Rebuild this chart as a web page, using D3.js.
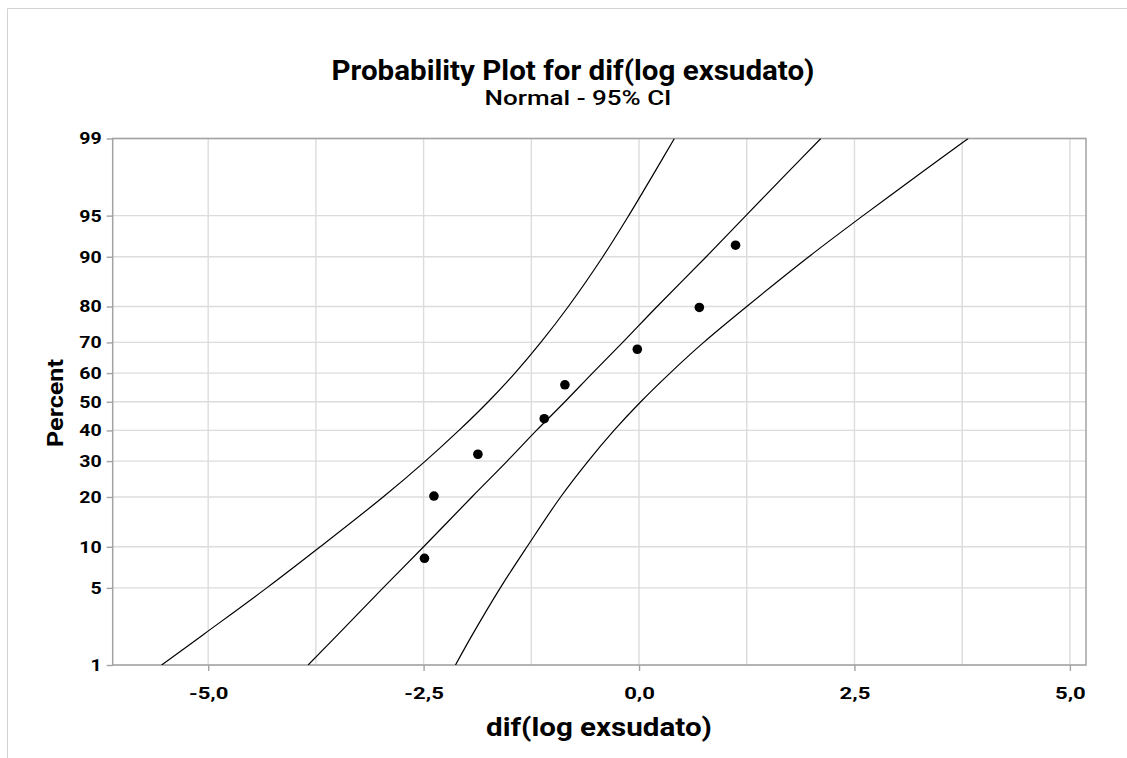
<!DOCTYPE html>
<html>
<head>
<meta charset="utf-8">
<script src="https://cdn.jsdelivr.net/npm/d3@7"></script>
<style>
  html, body { margin: 0; padding: 0; background: #fff; }
  svg { display: block; font-family: Roboto, "Noto Sans", sans-serif; }
</style>
</head>
<body>
<svg id="chart" width="1127" height="758"></svg>
<script>
// Percent levels on the probability axis
const percentTicks = [1, 5, 10, 20, 30, 40, 50, 60, 70, 80, 90, 95, 99];

// x axis ticks and their labels (decimal comma)
const xTicks = [-5, -2.5, 0, 2.5, 5];
const xTickLabels = ["-5,0", "-2,5", "0,0", "2,5", "5,0"];
const xMinorGrid = [-3.75, -1.25, 1.25, 3.75];

// Observations of dif(log exsudato) and their plotting percents
const values = [-2.49, -2.38, -1.87, -1.10, -0.86, -0.02, 0.70, 1.12];
const plotPercents = [8.33, 20.24, 32.14, 44.05, 55.95, 67.86, 79.76, 91.67];

// Fitted normal line and 95% confidence band, sampled at these percents
const bandPercents = [1, 2, 5, 10, 20, 30, 40, 50, 60, 70, 80, 90, 95, 98, 99];
const fitLine   = [-3.84, -3.49, -2.97, -2.50, -1.94, -1.53, -1.19, -0.86, -0.54, -0.19, 0.21, 0.78, 1.24, 1.76, 2.11];
const lowerBand = [-5.54, -5.05, -4.32, -3.70, -2.97, -2.48, -2.09, -1.75, -1.44, -1.14, -0.82, -0.42, -0.12, 0.20, 0.41];
const upperBand = [-2.13, -1.93, -1.61, -1.30, -0.91, -0.59, -0.29, 0.02, 0.36, 0.75, 1.25, 1.97, 2.60, 3.33, 3.82];

// Inverse standard normal CDF (Acklam's rational approximation) for the probit axis
function probit(p) {
  const a = [-3.969683028665376e+01, 2.209460984245205e+02, -2.759285104469687e+02, 1.383577518672690e+02, -3.066479806614716e+01, 2.506628277459239e+00];
  const b = [-5.447609879822406e+01, 1.615858368580409e+02, -1.556989798598866e+02, 6.680131188771972e+01, -1.328068155288572e+01];
  const c = [-7.784894002430293e-03, -3.223964580411365e-01, -2.400758277161838e+00, -2.549732539343734e+00, 4.374664141464968e+00, 2.938163982698783e+00];
  const d = [7.784695709041462e-03, 3.224671290700398e-01, 2.445134137142996e+00, 3.754408661907416e+00];
  const pl = 0.02425, ph = 1 - pl;
  let q, r;
  if (p < pl) {
    q = Math.sqrt(-2 * Math.log(p));
    return (((((c[0]*q+c[1])*q+c[2])*q+c[3])*q+c[4])*q+c[5]) / ((((d[0]*q+d[1])*q+d[2])*q+d[3])*q+1);
  }
  if (p <= ph) {
    q = p - 0.5; r = q * q;
    return (((((a[0]*r+a[1])*r+a[2])*r+a[3])*r+a[4])*r+a[5])*q / (((((b[0]*r+b[1])*r+b[2])*r+b[3])*r+b[4])*r+1);
  }
  q = Math.sqrt(-2 * Math.log(1 - p));
  return -(((((c[0]*q+c[1])*q+c[2])*q+c[3])*q+c[4])*q+c[5]) / ((((d[0]*q+d[1])*q+d[2])*q+d[3])*q+1);
}

// Widen a text element horizontally, keeping its glyph height
function widen(sel, factor) {
  sel.each(function () {
    const w = this.getComputedTextLength();
    d3.select(this)
      .attr("textLength", (w * factor).toFixed(1))
      .attr("lengthAdjust", "spacingAndGlyphs");
  });
}

const svg = d3.select("#chart");
const W = 1127, H = 758;
const plot = { left: 112.7, right: 1086, top: 138.5, bottom: 665 };

const x = d3.scaleLinear().domain([-6.108, 5.187]).range([plot.left, plot.right]);
const zScale = d3.scaleLinear().domain([probit(0.01), probit(0.99)]).range([plot.bottom, plot.top]);
const y = pct => zScale(probit(pct / 100));

// Outer figure border
svg.append("path")
  .attr("d", `M7.5,${H} V8.5 H${W}`)
  .attr("fill", "none").attr("stroke", "#d2d2d2").attr("stroke-width", 1);

// Gridlines
const grid = svg.append("g").attr("stroke", "#dcdcdc").attr("stroke-width", 1.4);
grid.selectAll("line.h").data(percentTicks).join("line")
  .attr("class", "h")
  .attr("x1", plot.left).attr("x2", plot.right)
  .attr("y1", d => y(d)).attr("y2", d => y(d));
grid.selectAll("line.v").data(xTicks.concat(xMinorGrid)).join("line")
  .attr("class", "v")
  .attr("x1", d => x(d)).attr("x2", d => x(d))
  .attr("y1", plot.top).attr("y2", plot.bottom);

// Axes
const yAxis = d3.axisLeft(zScale)
  .tickValues(percentTicks.map(p => probit(p / 100)))
  .tickFormat((d, i) => String(percentTicks[i]))
  .tickSize(6).tickPadding(5);
const gy = svg.append("g").attr("transform", `translate(${plot.left},0)`).call(yAxis);

const xAxis = d3.axisBottom(x)
  .tickValues(xTicks)
  .tickFormat((d, i) => xTickLabels[i])
  .tickSize(6).tickPadding(16);
const gx = svg.append("g").attr("transform", `translate(0,${plot.bottom})`).call(xAxis);

[gx, gy].forEach(g => {
  g.select(".domain").remove();
  g.selectAll(".tick line").attr("stroke", "#a3a3a3").attr("stroke-width", 1.4);
  g.selectAll(".tick text")
    .attr("fill", "#000")
    .attr("font-size", 17)
    .attr("font-weight", 700)
    .attr("font-family", "Roboto, sans-serif");
});
widen(gy.selectAll(".tick text"), 1.15);
widen(gx.selectAll(".tick text"), 1.3);

// Plot frame
svg.append("rect")
  .attr("x", plot.left).attr("y", plot.top)
  .attr("width", plot.right - plot.left).attr("height", plot.bottom - plot.top)
  .attr("fill", "none").attr("stroke", "#a3a3a3").attr("stroke-width", 1.5);

// Fit line and confidence band
svg.append("clipPath").attr("id", "plotClip")
  .append("rect")
  .attr("x", plot.left).attr("y", plot.top)
  .attr("width", plot.right - plot.left).attr("height", plot.bottom - plot.top);

const curveLine = d3.line()
  .x(d => x(d[0])).y(d => y(d[1]))
  .curve(d3.curveCatmullRom.alpha(0.5));

const lines = svg.append("g").attr("clip-path", "url(#plotClip)");
[lowerBand, fitLine, upperBand].forEach(series => {
  lines.append("path")
    .datum(series.map((v, i) => [v, bandPercents[i]]))
    .attr("d", curveLine)
    .attr("fill", "none")
    .attr("stroke", "#000")
    .attr("stroke-width", 1.2);
});

// Data points
svg.append("g").selectAll("circle").data(values).join("circle")
  .attr("cx", d => x(d))
  .attr("cy", (d, i) => y(plotPercents[i]))
  .attr("r", 4.8)
  .attr("fill", "#000");

// Titles
svg.append("text")
  .attr("x", 573).attr("y", 80)
  .attr("text-anchor", "middle")
  .attr("font-size", 28).attr("font-weight", 700)
  .attr("textLength", 483).attr("lengthAdjust", "spacingAndGlyphs")
  .text("Probability Plot for dif(log exsudato)");
svg.append("text")
  .attr("x", 578).attr("y", 105)
  .attr("text-anchor", "middle")
  .attr("font-size", 21).attr("font-weight", 500)
  .attr("textLength", 187).attr("lengthAdjust", "spacingAndGlyphs")
  .text("Normal - 95% CI");

// Axis titles
svg.append("text")
  .attr("x", 599).attr("y", 736)
  .attr("text-anchor", "middle")
  .attr("font-size", 26).attr("font-weight", 700)
  .attr("textLength", 226).attr("lengthAdjust", "spacingAndGlyphs")
  .text("dif(log exsudato)");
svg.append("text")
  .attr("transform", "translate(63,403) rotate(-90)")
  .attr("text-anchor", "middle")
  .attr("font-size", 22).attr("font-weight", 700)
  .attr("textLength", 88).attr("lengthAdjust", "spacingAndGlyphs")
  .text("Percent");
</script>
</body>
</html>
